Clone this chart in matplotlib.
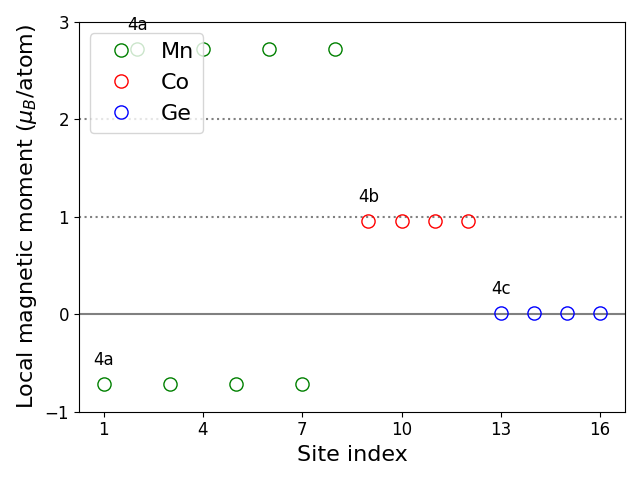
import matplotlib
matplotlib.use('Agg')

import numpy as np
import matplotlib.pyplot as plt

# -------------------
# Data
# -------------------
mn_sites = [1, 2, 3, 4, 5, 6, 7, 8]
mn_moments = [-0.72, 2.72, -0.72, 2.72, -0.72, 2.72, -0.72, 2.72]
co_sites = [9, 10, 11, 12]
co_moments = [0.955, 0.955, 0.955, 0.955]
ge_sites = [13, 14, 15, 16]
ge_moments = [0.01, 0.01, 0.01, 0.01]

labels = ['4a', '4a', '4b', '4c']
label_sites = [1, 2, 9, 13]
label_moments = [-0.72, 2.72, 0.955, 0.01]

# -------------------
# Plot
# -------------------
fig, ax = plt.subplots(figsize=(6.4, 4.8))

ax.axhline(0, color='gray', linewidth=1.5)
ax.axhline(1, color='gray', linestyle=':', linewidth=1.5)
ax.axhline(2, color='gray', linestyle=':', linewidth=1.5)

ax.plot(mn_sites, mn_moments, 'o', mfc='none', mec='green', ms=9.5, label='Mn')
ax.plot(co_sites, co_moments, 'o', mfc='none', mec='red', ms=9.5, label='Co')
ax.plot(ge_sites, ge_moments, 'o', mfc='none', mec='blue', ms=9.5, label='Ge')

for lab, xs, ys in zip(labels, label_sites, label_moments):
    ax.text(xs - 0.3, ys + 0.2, lab, fontsize=12)

ax.set_ylim(-1, 3)
ax.set_xticks([1, 4, 7, 10, 13, 16])
ax.set_yticks([-1, 0, 1, 2, 3])
ax.tick_params(labelsize=12)
ax.set_xlabel('Site index', fontsize=16)
ax.set_ylabel(r'Local magnetic moment ($\mu_B$/atom)', fontsize=16)
ax.legend(loc='upper left', fontsize=16)

plt.tight_layout()
plt.savefig('out.png', dpi=100)
